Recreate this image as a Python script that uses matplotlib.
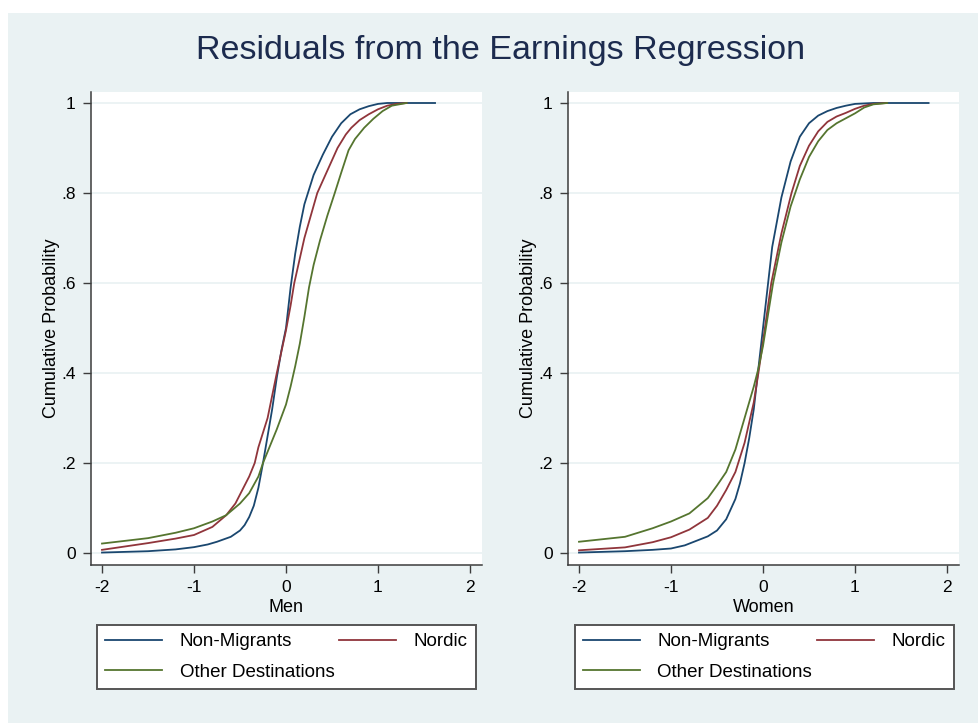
import matplotlib
matplotlib.use("Agg")
import matplotlib.pyplot as plt

plt.rcParams['font.family'] = ['Liberation Sans', 'DejaVu Sans']

# ---------------- data ----------------
title = "Residuals from the Earnings Regression"
series_names = ["Non-Migrants", "Nordic", "Other Destinations"]
series_colors = ["#1a476f", "#90353b", "#55752f"]
panel_labels = ["Men", "Women"]
x_ticks = [-2, -1, 0, 1, 2]
x_tick_labels = ["-2", "-1", "0", "1", "2"]
y_ticks = [0, 0.2, 0.4, 0.6, 0.8, 1.0]
y_tick_labels = ["0", ".2", ".4", ".6", ".8", "1"]
y_label = "Cumulative Probability"

# Men
men_nonmig_x = [-2, -1.5, -1.2, -1, -0.85, -0.75, -0.6, -0.5, -0.45, -0.4, -0.35, -0.3, -0.25, -0.2, -0.15, -0.1, -0.05, 0, 0.05, 0.1, 0.15, 0.2, 0.3, 0.4, 0.5, 0.6, 0.7, 0.8, 0.9, 1.0, 1.1, 1.62]
men_nonmig_y = [0.001, 0.004, 0.008, 0.013, 0.019, 0.025, 0.036, 0.05, 0.062, 0.08, 0.105, 0.145, 0.2, 0.26, 0.32, 0.39, 0.45, 0.5, 0.59, 0.665, 0.725, 0.775, 0.84, 0.885, 0.925, 0.955, 0.975, 0.986, 0.993, 0.998, 1.0, 1.0]
men_nordic_x = [-2, -1.5, -1.2, -1, -0.8, -0.65, -0.55, -0.5, -0.4, -0.34, -0.3, -0.2, -0.1, 0, 0.05, 0.09, 0.2, 0.27, 0.34, 0.45, 0.56, 0.65, 0.71, 0.8, 0.9, 1.0, 1.1, 1.2, 1.31]
men_nordic_y = [0.007, 0.022, 0.032, 0.04, 0.058, 0.084, 0.11, 0.13, 0.17, 0.2, 0.235, 0.3, 0.4, 0.495, 0.55, 0.6, 0.7, 0.75, 0.8, 0.85, 0.9, 0.93, 0.945, 0.962, 0.975, 0.986, 0.994, 0.998, 1.0]
men_other_x = [-2, -1.5, -1.2, -1, -0.8, -0.65, -0.5, -0.4, -0.3, -0.25, -0.2, -0.1, 0, 0.05, 0.1, 0.15, 0.2, 0.25, 0.3, 0.37, 0.45, 0.53, 0.6, 0.68, 0.75, 0.85, 0.95, 1.05, 1.15, 1.31]
men_other_y = [0.021, 0.033, 0.045, 0.055, 0.07, 0.084, 0.11, 0.133, 0.17, 0.2, 0.225, 0.275, 0.33, 0.37, 0.415, 0.465, 0.525, 0.59, 0.64, 0.695, 0.75, 0.8, 0.845, 0.895, 0.92, 0.945, 0.965, 0.982, 0.994, 1.0]

# Women
women_nonmig_x = [-2, -1.5, -1.2, -1, -0.85, -0.75, -0.6, -0.5, -0.4, -0.3, -0.25, -0.2, -0.15, -0.1, -0.05, 0, 0.05, 0.1, 0.2, 0.3, 0.4, 0.5, 0.6, 0.7, 0.8, 0.9, 1.0, 1.2, 1.8]
women_nonmig_y = [0.001, 0.004, 0.007, 0.01, 0.017, 0.025, 0.037, 0.05, 0.075, 0.12, 0.155, 0.2, 0.255, 0.32, 0.41, 0.5, 0.59, 0.68, 0.79, 0.87, 0.925, 0.955, 0.972, 0.982, 0.989, 0.994, 0.998, 1.0, 1.0]
women_nordic_x = [-2, -1.5, -1.2, -1, -0.8, -0.6, -0.5, -0.4, -0.3, -0.2, -0.1, -0.05, 0, 0.09, 0.2, 0.31, 0.4, 0.5, 0.6, 0.7, 0.8, 0.9, 1.0, 1.1, 1.2, 1.34]
women_nordic_y = [0.006, 0.0125, 0.024, 0.035, 0.052, 0.078, 0.105, 0.14, 0.18, 0.245, 0.335, 0.4, 0.47, 0.6, 0.71, 0.8, 0.86, 0.905, 0.937, 0.958, 0.97, 0.978, 0.987, 0.994, 0.998, 1.0]
women_other_x = [-2, -1.5, -1.2, -1, -0.8, -0.6, -0.5, -0.4, -0.3, -0.2, -0.1, -0.05, 0, 0.11, 0.2, 0.3, 0.4, 0.5, 0.6, 0.7, 0.8, 0.9, 1.0, 1.1, 1.2, 1.35]
women_other_y = [0.025, 0.036, 0.055, 0.07, 0.088, 0.122, 0.15, 0.18, 0.23, 0.3, 0.37, 0.41, 0.46, 0.6, 0.69, 0.77, 0.83, 0.88, 0.915, 0.94, 0.955, 0.966, 0.977, 0.99, 0.997, 1.0]

panels = [
    [(men_nonmig_x, men_nonmig_y), (men_nordic_x, men_nordic_y), (men_other_x, men_other_y)],
    [(women_nonmig_x, women_nonmig_y), (women_nordic_x, women_nordic_y), (women_other_x, women_other_y)],
]

# ---------------- styling ----------------
BG = "#eaf2f3"
GRID = "#eaf2f3"
AXC = "#3c3c3c"
TITLE_C = "#1c2b4e"

fig = plt.figure(figsize=(9.79, 7.23), dpi=100)
fig.patch.set_facecolor("white")
fig.patches.append(plt.Rectangle((8 / 979, 0), 1 - 8 / 979, 1 - 13 / 723,
                                 transform=fig.transFigure, facecolor=BG,
                                 edgecolor="none", zorder=-10))

fig.text(0.511, 1 - 51 / 723, title, ha="center", va="center",
         fontsize=24.5, color=TITLE_C)

ax_lefts = [91 / 979, 568 / 979]
ax_w = 391 / 979
ax_b = 1 - 565 / 723
ax_h = 473 / 723
leg_lefts = [97 / 979, 575 / 979]

for pi, (left, data) in enumerate(zip(ax_lefts, panels)):
    ax = fig.add_axes([left, ax_b, ax_w, ax_h])
    ax.set_facecolor("white")
    handles = []
    for (xs, ys), name, col in zip(data, series_names, series_colors):
        h, = ax.plot(xs, ys, color=col, lw=1.3, label=name, zorder=3)
        handles.append(h)
    ax.set_xlim(-2 - 11 / 92, 2 + 12 / 92)
    ax.set_ylim(-12 / 450, 1 + 11 / 450)
    ax.set_xticks(x_ticks)
    ax.set_xticklabels(x_tick_labels)
    ax.set_yticks(y_ticks)
    ax.set_yticklabels(y_tick_labels)
    ax.yaxis.grid(True, color=GRID, lw=1.3, zorder=0)
    ax.set_axisbelow(True)
    for s in ["top", "right"]:
        ax.spines[s].set_visible(False)
    for s in ["left", "bottom"]:
        ax.spines[s].set_color(AXC)
        ax.spines[s].set_linewidth(1.1)
    ax.tick_params(axis="both", colors=AXC, labelcolor="black", length=6,
                   width=1.0, labelsize=12.5, pad=5)
    ax.set_xlabel(panel_labels[pi], fontsize=13, labelpad=3)
    ax.set_ylabel(y_label, fontsize=13, labelpad=1)

    order = [0, 2, 1]
    leg = fig.legend([handles[i] for i in order], [series_names[i] for i in order],
                     ncol=2, loc="lower left",
                     bbox_to_anchor=(leg_lefts[pi], 1 - 689 / 723, 379 / 979, 63 / 723),
                     bbox_transform=fig.transFigure, mode="expand",
                     fontsize=13.5, frameon=True, fancybox=False, edgecolor="#555555",
                     facecolor="white", framealpha=1, handlelength=3.0,
                     handletextpad=0.95, borderaxespad=0, borderpad=0.45,
                     labelspacing=0.7, columnspacing=0.5)
    leg.get_frame().set_linewidth(1.4)

fig.savefig("out.png", dpi=100, facecolor=fig.get_facecolor())
